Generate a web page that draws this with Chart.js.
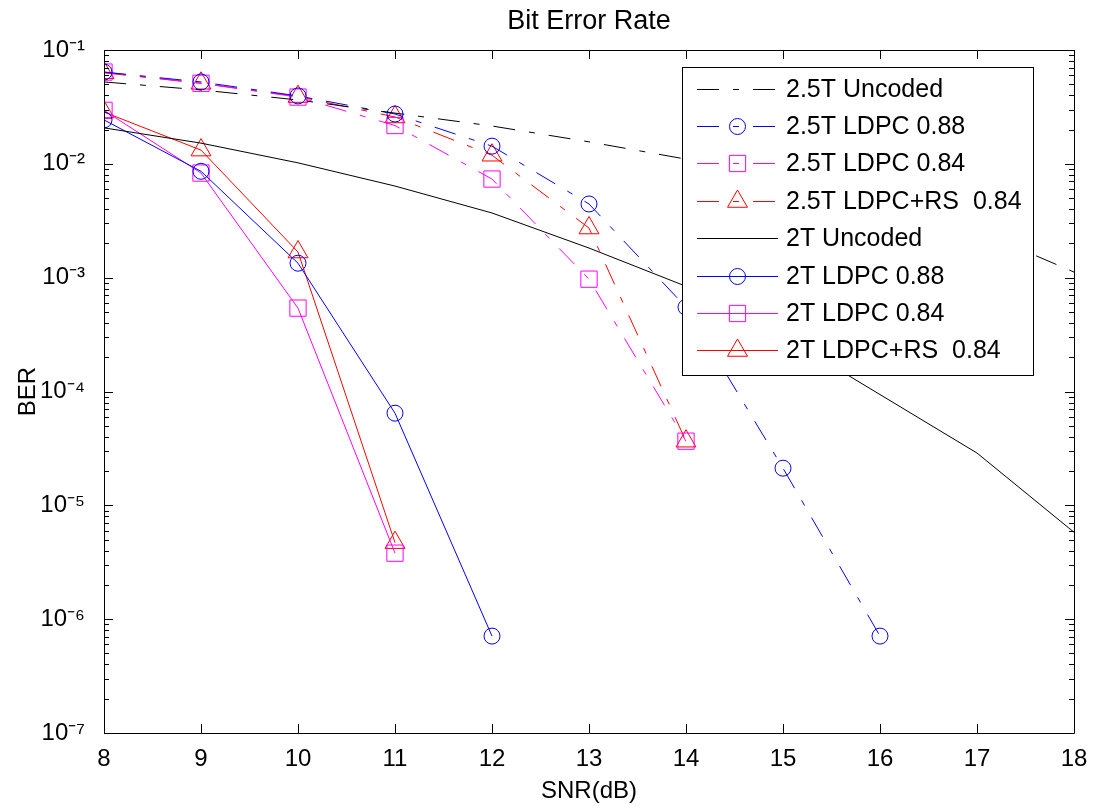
<!DOCTYPE html>
<html>
<head>
<meta charset="utf-8">
<title>Bit Error Rate</title>
<style>
  html, body { margin: 0; padding: 0; background: #ffffff; }
  #wrap { width: 1096px; height: 808px; }
</style>
<script src="https://cdn.jsdelivr.net/npm/chart.js"></script>
</head>
<body>
<div id="wrap"><canvas id="berChart" width="1096" height="808"></canvas></div>
<script>
// SNR points (dB) for each curve
const snrFull = [8, 9, 10, 11, 12, 13, 14, 15, 16, 17, 18];
const snrLdpc88_25 = [8, 9, 10, 11, 12, 13, 14, 15, 16];
const snrLdpc84_25 = [8, 9, 10, 11, 12, 13, 14];
const snrRs84_25 = [8, 9, 10, 11, 12, 13, 14];
const snrLdpc88_2 = [8, 9, 10, 11, 12];
const snrLdpc84_2 = [8, 9, 10, 11];
const snrRs84_2 = [8, 9, 10, 11];

// BER values
const berUncoded25 = [0.0524, 0.0446, 0.0364, 0.0279, 0.0215, 0.0156, 0.0110, 0.0078, 0.0050, 0.0026, 0.00112];
const berLdpc88_25 = [0.064, 0.0524, 0.0395, 0.0274, 0.0143, 0.00444, 5.5e-4, 2.12e-5, 7.1e-7];
const berLdpc84_25 = [0.064, 0.051, 0.0386, 0.0217, 0.00735, 9.7e-4, 3.66e-5];
const berRs84_25 = [0.063, 0.051, 0.0390, 0.0258, 0.0119, 0.00273, 3.66e-5];
const berUncoded2 = [0.0207, 0.0152, 0.0102, 0.00638, 0.00370, 0.00182, 8.4e-4, 3.07e-4, 9.4e-5, 2.88e-5, 5.8e-6];
const berLdpc88_2 = [0.0243, 0.0086, 0.00134, 6.45e-5, 7.1e-7];
const berLdpc84_2 = [0.0295, 0.0083, 5.4e-4, 3.8e-6];
const berRs84_2 = [0.0285, 0.0132, 0.00168, 4.7e-6];

// axis ticks
const xTicks = [8, 9, 10, 11, 12, 13, 14, 15, 16, 17, 18];
const yDecades = [-7, -6, -5, -4, -3, -2, -1];
const yTickLabels = ['10\u207B\u2077', '10\u207B\u2076', '10\u207B\u2075', '10\u207B\u2074', '10\u207B\u00B3', '10\u207B\u00B2', '10\u207B\u00B9'];

const dashDot = [22, 14, 6, 14];
const FONT = '"Liberation Sans", Arial, Helvetica, sans-serif';

function pts(xs, ys) {
  return xs.map((x, i) => ({ x: x, y: ys[i] }));
}

function series(label, xs, ys, color, dash, marker) {
  const r = marker ? (marker === 'circle' ? 8 : 11.5) : 0;
  return {
    label: label,
    data: pts(xs, ys),
    borderColor: color,
    borderWidth: 1,
    borderDash: dash,
    pointStyle: marker || 'circle',
    pointRadius: r,
    pointHoverRadius: r,
    pointBorderColor: color,
    pointBackgroundColor: 'rgba(0,0,0,0)',
    pointBorderWidth: 1,
    tension: 0,
    fill: false
  };
}

const datasets = [
  series('2.5T Uncoded', snrFull, berUncoded25, '#000000', dashDot, null),
  series('2.5T LDPC 0.88', snrLdpc88_25, berLdpc88_25, '#0000ff', dashDot, 'circle'),
  series('2.5T LDPC 0.84', snrLdpc84_25, berLdpc84_25, '#ff00ff', dashDot, 'rect'),
  series('2.5T LDPC+RS  0.84', snrRs84_25, berRs84_25, '#ff0000', dashDot, 'triangle'),
  series('2T Uncoded', snrFull, berUncoded2, '#000000', [], null),
  series('2T LDPC 0.88', snrLdpc88_2, berLdpc88_2, '#0000ff', [], 'circle'),
  series('2T LDPC 0.84', snrLdpc84_2, berLdpc84_2, '#ff00ff', [], 'rect'),
  series('2T LDPC+RS  0.84', snrRs84_2, berRs84_2, '#ff0000', [], 'triangle')
];

function isMajor(v) {
  const l = Math.log10(v);
  return Math.abs(l - Math.round(l)) < 1e-9;
}

// MATLAB style box with inward ticks on all four sides
const frame = {
  id: 'frame',
  afterDatasetsDraw(chart) {
    const { ctx, chartArea: a, scales: { x, y } } = chart;
    ctx.save();
    ctx.strokeStyle = '#000000';
    ctx.lineWidth = 1;
    ctx.beginPath();
    ctx.rect(Math.round(a.left) + 0.5, Math.round(a.top) + 0.5, Math.round(a.right - a.left), Math.round(a.bottom - a.top));
    x.ticks.forEach(t => {
      const px = Math.round(x.getPixelForValue(t.value)) + 0.5;
      ctx.moveTo(px, a.bottom);
      ctx.lineTo(px, a.bottom - 9);
      ctx.moveTo(px, a.top);
      ctx.lineTo(px, a.top + 9);
    });
    y.ticks.forEach(t => {
      const len = isMajor(t.value) ? 9 : 5;
      const py = Math.round(y.getPixelForValue(t.value)) + 0.5;
      ctx.moveTo(a.left, py);
      ctx.lineTo(a.left + len, py);
      ctx.moveTo(a.right, py);
      ctx.lineTo(a.right - len, py);
    });
    ctx.stroke();
    ctx.restore();
  }
};

function drawMarker(ctx, style, cx, cy, r) {
  ctx.beginPath();
  if (style === 'circle') {
    ctx.arc(cx, cy, r, 0, Math.PI * 2);
  } else if (style === 'rect') {
    const s = r * Math.SQRT1_2;
    ctx.rect(cx - s, cy - s, 2 * s, 2 * s);
  } else if (style === 'triangle') {
    const h = r * Math.sin(Math.PI / 3);
    ctx.moveTo(cx, cy - r);
    ctx.lineTo(cx + h, cy + r / 2);
    ctx.lineTo(cx - h, cy + r / 2);
    ctx.closePath();
  }
  ctx.stroke();
}

// legend box in the upper right, drawn like the MATLAB one
const boxLegend = {
  id: 'boxLegend',
  afterDraw(chart) {
    const ctx = chart.ctx;
    const bx = 682, by = 67, bw = 351, bh = 308;
    ctx.save();
    ctx.fillStyle = '#ffffff';
    ctx.fillRect(bx, by, bw, bh);
    ctx.strokeStyle = '#000000';
    ctx.lineWidth = 1;
    ctx.strokeRect(bx + 0.5, by + 0.5, bw, bh);
    chart.data.datasets.forEach((ds, i) => {
      const cy = Math.round(88.5 + i * 37.4) + 0.5;
      ctx.strokeStyle = ds.borderColor;
      ctx.setLineDash(ds.borderDash || []);
      ctx.beginPath();
      ctx.moveTo(697, cy);
      ctx.lineTo(778, cy);
      ctx.stroke();
      ctx.setLineDash([]);
      if (ds.pointRadius > 0) {
        drawMarker(ctx, ds.pointStyle, 737.5, cy, ds.pointRadius);
      }
      ctx.fillStyle = '#000000';
      ctx.font = '25px ' + FONT;
      ctx.textBaseline = 'middle';
      ctx.textAlign = 'left';
      ctx.fillText(ds.label, 786, cy + 1);
    });
    ctx.restore();
  }
};

const berChart = new Chart(document.getElementById('berChart').getContext('2d'), {
  type: 'line',
  data: { datasets: datasets },
  plugins: [frame, boxLegend],
  options: {
    responsive: false,
    animation: false,
    layout: { padding: { left: 0, right: 22, top: 0, bottom: 0 } },
    plugins: {
      legend: { display: false },
      tooltip: { enabled: false },
      title: {
        display: true,
        text: 'Bit Error Rate',
        fullSize: false,
        color: '#000000',
        font: { family: FONT, size: 27, weight: 'normal' },
        padding: { top: 5, bottom: 12.6 }
      }
    },
    scales: {
      x: {
        type: 'linear',
        min: 8,
        max: 18,
        afterBuildTicks(axis) {
          axis.ticks = xTicks.map(v => ({ value: v }));
        },
        afterFit(axis) { axis.height = 75; },
        grid: { display: false },
        border: { display: false },
        ticks: {
          color: '#000000',
          font: { family: FONT, size: 24 },
          padding: 4,
          autoSkip: false,
          maxRotation: 0
        },
        title: {
          display: true,
          text: 'SNR(dB)',
          color: '#000000',
          font: { family: FONT, size: 24 },
          padding: { top: 4, bottom: 2 }
        }
      },
      y: {
        type: 'logarithmic',
        min: 1e-7,
        max: 1e-1,
        afterBuildTicks(axis) {
          const vals = [];
          yDecades.forEach(e => {
            const top = e === -1 ? 1 : 9;
            for (let m = 1; m <= top; m++) vals.push(m * Math.pow(10, e));
          });
          axis.ticks = vals.map(v => ({ value: v }));
        },
        afterFit(axis) { axis.width = 104; },
        grid: { display: false },
        border: { display: false },
        ticks: {
          color: '#000000',
          font: { family: FONT, size: 24 },
          padding: 11,
          autoSkip: false,
          callback(value) {
            if (!isMajor(value)) return '';
            const idx = yDecades.indexOf(Math.round(Math.log10(value)));
            return yTickLabels[idx];
          }
        },
        title: {
          display: true,
          text: 'BER',
          color: '#000000',
          font: { family: FONT, size: 24 },
          padding: { top: 14, bottom: 0 }
        }
      }
    }
  }
});
</script>
</body>
</html>
